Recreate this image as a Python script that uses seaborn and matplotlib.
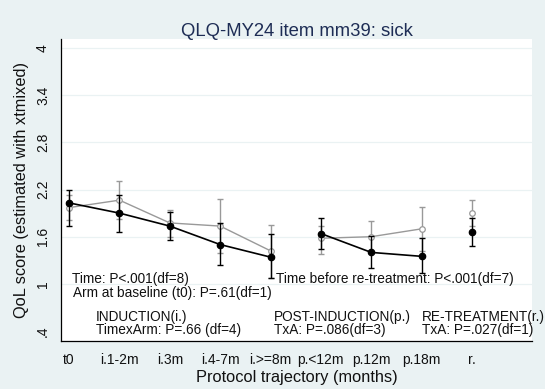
import matplotlib
matplotlib.use("Agg")
import matplotlib.pyplot as plt
import numpy as np
import pandas as pd
import seaborn as sns

# ─── Data ─────────────────────────────────────────────────────────────────────
timepoints = ["t0", "i.1-2m", "i.3m", "i.4-7m", "i.>=8m",
              "p.<12m", "p.12m", "p.18m", "r."]
segments   = [0, 0, 0, 0, 0, 1, 1, 1, 2]      # phases joined by lines

black_mean = [2.03, 1.90, 1.735, 1.50, 1.34, 1.64, 1.40, 1.35, 1.66]
black_lo   = [1.73, 1.66, 1.555, 1.24, 1.07, 1.44, 1.20, 1.135, 1.48]
black_hi   = [2.20, 2.13, 1.915, 1.775, 1.635, 1.84, 1.615, 1.58, 1.84]

gray_mean  = [1.97, 2.065, 1.775, 1.735, 1.42, 1.58, 1.60, 1.70, 1.905]
gray_lo    = [1.81, 1.82, 1.60, 1.39, 1.08, 1.375, 1.39, 1.42, 1.735]
gray_hi    = [2.13, 2.305, 1.945, 2.075, 1.755, 1.735, 1.805, 1.98, 2.065]

ytick_vals   = [0.4, 1.0, 1.6, 2.2, 2.8, 3.4, 4.0]
ytick_labels = [".4", "1", "1.6", "2.2", "2.8", "3.4", "4"]

# ─── Style ────────────────────────────────────────────────────────────────────
BG    = "#eaf2f3"
GRID  = "#eaf2f3"
TITLE = "#1e2d55"
GRAY  = "#999999"
TEXT  = "#111111"

sns.set_style("white")
plt.rcParams["font.family"] = ["Liberation Sans", "DejaVu Sans"]

rows = []
for arm, m, lo, hi in [("gray", gray_mean, gray_lo, gray_hi),
                       ("black", black_mean, black_lo, black_hi)]:
    for i, tp in enumerate(timepoints):
        rows.append({"pos": i, "tp": tp, "arm": arm, "seg": segments[i],
                     "mean": m[i], "lo": lo[i], "hi": hi[i]})
df = pd.DataFrame(rows)

fig = plt.figure(figsize=(5.45, 3.89), dpi=100)
fig.patch.set_facecolor(BG)
ax = fig.add_axes([0.112, 0.1234, 0.864, 0.7763])
ax.set_facecolor("white")

# grid lines
for v in ytick_vals[1:]:
    ax.axhline(v, color=GRID, linewidth=0.9, zorder=0)

# error bars + lines per arm (gray first, black on top)
for arm, col, face, z in [("gray", GRAY, "white", 2), ("black", "black", "black", 3)]:
    d = df[df["arm"] == arm]
    ax.errorbar(d["pos"], d["mean"],
                yerr=[d["mean"] - d["lo"], d["hi"] - d["mean"]],
                fmt="none", ecolor=col, elinewidth=1.0, capsize=2.3,
                capthick=1.0, zorder=z)
    sns.lineplot(data=d, x="pos", y="mean", units="seg", estimator=None,
                 color=col, linewidth=1.0 if arm == "gray" else 1.2,
                 marker="o", markersize=4.0 if arm == "gray" else 4.6,
                 markerfacecolor=face, markeredgecolor=col,
                 markeredgewidth=0.9, ax=ax, zorder=z, legend=False)

# annotations
fs = 9.8
ax.text(0.05, 1.06, "Time: P<.001(df=8)", fontsize=fs, color=TEXT, va="center")
ax.text(0.07, 0.89, "Arm at baseline (t0): P=.61(df=1)", fontsize=fs,
        color=TEXT, va="center")
ax.text(4.1, 1.06, "Time before re-treatment: P<.001(df=7)", fontsize=fs,
        color=TEXT, va="center")
ax.text(0.53, 0.58, "INDUCTION(i.)", fontsize=fs, color=TEXT, va="center")
ax.text(0.53, 0.41, "TimexArm: P=.66 (df=4)", fontsize=fs, color=TEXT, va="center")
ax.text(4.07, 0.58, "POST-INDUCTION(p.)", fontsize=fs, color=TEXT, va="center")
ax.text(4.07, 0.41, "TxA: P=.086(df=3)", fontsize=fs, color=TEXT, va="center")
ax.text(7.01, 0.58, "RE-TREATMENT(r.)", fontsize=fs, color=TEXT, va="center")
ax.text(7.01, 0.41, "TxA: P=.027(df=1)", fontsize=fs, color=TEXT, va="center")

# axes
ax.set_xlim(-0.16, 9.19)
ax.set_ylim(0.273, 4.115)
ax.set_xticks(range(len(timepoints) + 1))
ax.set_xticklabels(timepoints + [""], fontsize=10, color=TEXT)
ax.set_yticks(ytick_vals)
ax.set_yticklabels(ytick_labels, fontsize=10, color=TEXT, rotation=90, va="center")
ax.tick_params(axis="both", direction="out", length=5, width=0.9,
               color="black")
ax.tick_params(axis="x", pad=4)
ax.tick_params(axis="y", pad=3)
for sp in ["top", "right"]:
    ax.spines[sp].set_visible(False)
for sp in ["left", "bottom"]:
    ax.spines[sp].set_color("black")
    ax.spines[sp].set_linewidth(0.9)

ax.set_xlabel("Protocol trajectory (months)", fontsize=11.8, color=TEXT, labelpad=2)
ax.set_ylabel("QoL score (estimated with xtmixed)", fontsize=11.8, color=TEXT,
              labelpad=5)
ax.set_title("QLQ-MY24 item mm39: sick", fontsize=13.3, color=TITLE, pad=2)

fig.savefig("out.png", dpi=100, facecolor=BG)
